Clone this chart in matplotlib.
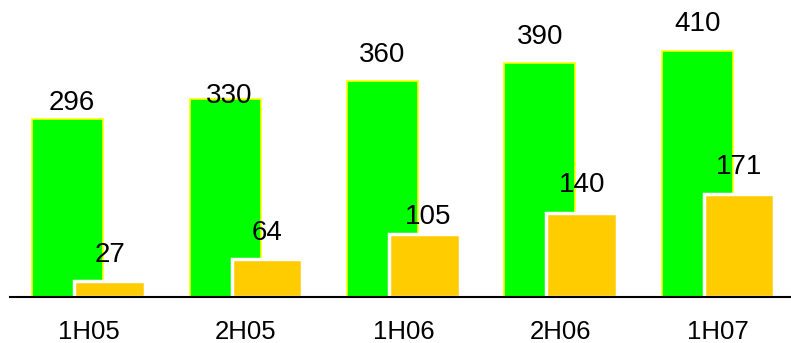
import numpy as np
from matplotlib import pyplot

pyplot.rcParams['font.family'] = ['Liberation Sans', 'DejaVu Sans']

periods = ['1H05', '2H05', '1H06', '2H06', '1H07']
green_values = [296, 330, 360, 390, 410]
orange_values = [27, 64, 105, 140, 171]

# label nudges (x in category units, y in data units) to follow the original
green_nudge = [(0.025, -15), (0.025, -38), (0.0, 0), (0.0, 0), (0.0, 2)]
orange_nudge = [(0.0, 0), (0.0, 0), (0.025, -15), (0.0, 4), (0.0, 3)]


def main():
    fig = pyplot.figure(figsize=(7.91, 3.43), dpi=100)
    axes = fig.add_axes([10 / 791, 46 / 343, 781 / 791, 297 / 343])

    x = np.arange(len(periods))
    width = 0.45
    offset = 0.133
    gap = 31

    axes.bar(x - offset, green_values, width, color='#00ff00',
             edgecolor='#ffff00', linewidth=1.2, zorder=2)
    axes.bar(x + offset, orange_values, width, color='#ffcc00',
             edgecolor='white', linewidth=2.5, zorder=3)

    for i, v in enumerate(green_values):
        dx, dy = green_nudge[i]
        axes.text(x[i] - offset + dx, v + gap + dy, str(v), ha='center',
                  va='baseline', fontsize=20, zorder=4)
    for i, v in enumerate(orange_values):
        dx, dy = orange_nudge[i]
        axes.text(x[i] + offset + dx, v + gap + dy, str(v), ha='center',
                  va='baseline', fontsize=20, zorder=4)

    axes.set_xlim(-0.5, 4.463)
    axes.set_ylim(0, 495)
    axes.set_xticks(x)
    axes.set_xticklabels(periods, fontsize=18.5)
    axes.tick_params(axis='x', length=0, pad=16.5)
    axes.set_yticks([])
    for side in ('left', 'right', 'top'):
        axes.spines[side].set_visible(False)
    axes.spines['bottom'].set_linewidth(1.5)
    axes.spines['bottom'].set_zorder(5)

    fig.savefig('out.png', dpi=100)


if __name__ == '__main__':
    main()
